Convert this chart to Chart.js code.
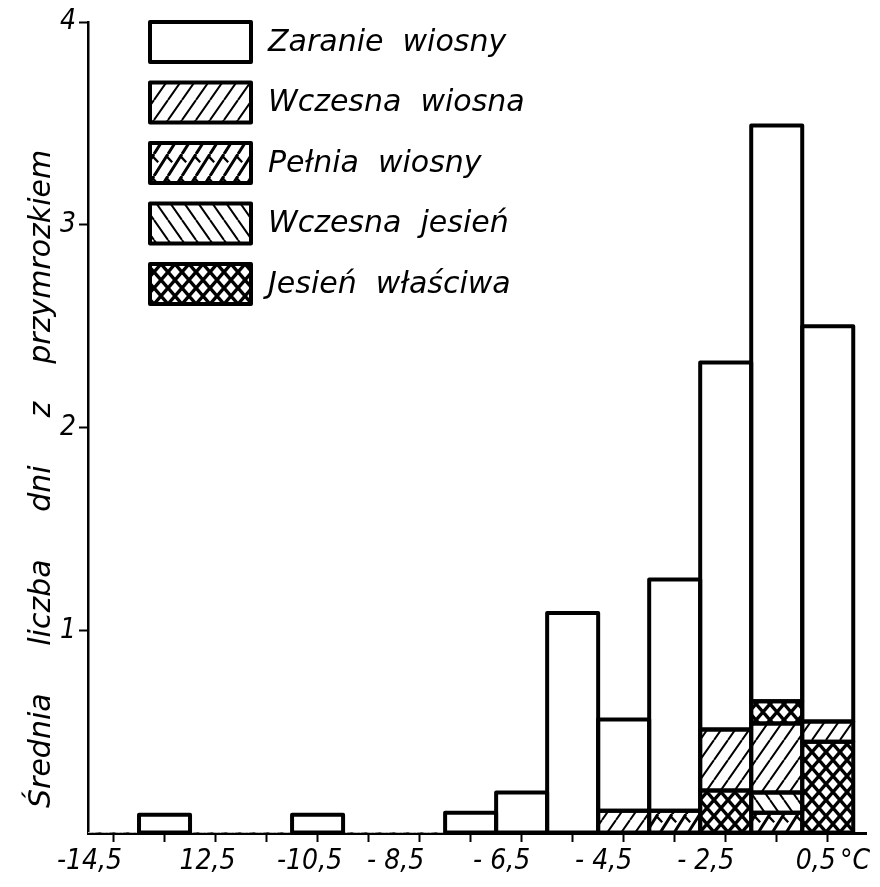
<!DOCTYPE html>
<html>
<head>
<meta charset="utf-8">
<script src="https://cdn.jsdelivr.net/npm/chart.js@4.4.1/dist/chart.umd.min.js"></script>
<style>
  html, body { margin: 0; padding: 0; background: #fff; }
  #wrap { width: 880px; height: 887px; }
</style>
</head>
<body>
<div id="wrap"><canvas id="c" width="880" height="887"></canvas></div>
<script>
// ---- data ----
// bin centres in °C (one bar per 1-degree class)
const binCenters = [-14.5, -13.5, -12.5, -11.5, -10.5, -9.5, -8.5, -7.5, -6.5, -5.5, -4.5, -3.5, -2.5, -1.5, -0.5];
// tick labels as printed (spaces nudge the hand-placed labels)
const tickLabels = ['-14,5 ', '', '   12,5', '', '   -10,5', '', '- 8,5 ', '', '- 6,5', '', '- 4,5', '', '- 2,5', '', '  0,5'];
const yTickValues = [0, 1, 2, 3, 4];

const zaranieWiosny   = [0, 0.09, 0, 0, 0.09, 0, 0, 0.10, 0.20, 1.085, 0.45, 1.14, 1.81, 2.84, 1.95];
const wczesnaWiosna   = [0, 0, 0, 0, 0, 0, 0, 0, 0, 0, 0.11, 0, 0.30, 0.34, 0.10];
const pelniaWiosny    = [0, 0, 0, 0, 0, 0, 0, 0, 0, 0, 0, 0.11, 0, 0.10, 0];
const wczesnaJesien   = [0, 0, 0, 0, 0, 0, 0, 0, 0, 0, 0, 0, 0, 0.10, 0];
// Jesień właściwa: lower part (below Wczesna wiosna) and upper part (above it)
const jesienWlasciwaDol  = [0, 0, 0, 0, 0, 0, 0, 0, 0, 0, 0, 0, 0.21, 0, 0.45];
const jesienWlasciwaGora = [0, 0, 0, 0, 0, 0, 0, 0, 0, 0, 0, 0, 0, 0.11, 0];

const legendLabels = ['Zaranie  wiosny', 'Wczesna  wiosna', 'Pełnia  wiosny', 'Wczesna  jesień', 'Jesień  właściwa'];
const yTitle = 'Średnia     liczba     dni     z    przymrozkiem';
const unitLabel = '°C';

// ---- patterns ----
function makePattern(w, h, draw) {
  const c = document.createElement('canvas');
  c.width = w; c.height = h;
  const g = c.getContext('2d');
  g.fillStyle = '#fff';
  g.fillRect(0, 0, w, h);
  g.strokeStyle = '#000';
  draw(g, w, h);
  return g.createPattern(c, 'repeat');
}
const patWhite = '#ffffff';
const patSlash = makePattern(14, 20, (g, w, h) => {
  g.lineWidth = 2;
  g.beginPath();
  for (const dx of [-w, 0, w]) { g.moveTo(dx, h); g.lineTo(dx + w, 0); }
  g.stroke();
});
const patBack = makePattern(14, 20, (g, w, h) => {
  g.lineWidth = 2;
  g.beginPath();
  for (const dx of [-w, 0, w]) { g.moveTo(dx, 0); g.lineTo(dx + w, h); }
  g.stroke();
});
const patCross = makePattern(14, 16, (g, w, h) => {
  g.lineWidth = 3.4;
  g.beginPath();
  for (const dx of [-w, 0, w]) {
    g.moveTo(dx, h); g.lineTo(dx + w, 0);
    g.moveTo(dx, 0); g.lineTo(dx + w, h);
  }
  g.stroke();
});
const patPelnia = makePattern(14, 22, (g, w, h) => {
  g.lineWidth = 3;
  g.beginPath();
  for (const dx of [-w, 0, w]) {
    g.moveTo(dx, h); g.lineTo(dx + w, 0);
  }
  g.stroke();
  g.lineWidth = 2.2;
  g.beginPath();
  for (const dx of [-w, 0, w]) {
    g.moveTo(dx + w * 0.9, h * 0.1); g.lineTo(dx + w * 1.3, h * 0.38);
  }
  g.stroke();
});
const legendFills = [patWhite, patSlash, patPelnia, patBack, patCross];

function toPoints(arr) { return arr.map((v, i) => ({ x: binCenters[i], y: v })); }

const datasets = [
  { label: legendLabels[2], data: toPoints(pelniaWiosny), backgroundColor: patPelnia },
  { label: legendLabels[4], data: toPoints(jesienWlasciwaDol), backgroundColor: patCross },
  { label: legendLabels[3], data: toPoints(wczesnaJesien), backgroundColor: patBack },
  { label: legendLabels[1], data: toPoints(wczesnaWiosna), backgroundColor: patSlash },
  { label: legendLabels[4], data: toPoints(jesienWlasciwaGora), backgroundColor: patCross },
  { label: legendLabels[0], data: toPoints(zaranieWiosny), backgroundColor: patWhite },
].map(d => Object.assign(d, { borderWidth: 0, barPercentage: 1, categoryPercentage: 1 }));

const FONT_C = '"DejaVu Sans Condensed", "DejaVu Sans", sans-serif';
const FONT = '"DejaVu Sans", sans-serif';

// outlines of every bar segment, drawn from the bar elements' own geometry
const outlinePlugin = {
  id: 'outline',
  afterDatasetsDraw(chart) {
    const ctx = chart.ctx;
    ctx.save();
    ctx.strokeStyle = '#000';
    ctx.lineWidth = 4;
    ctx.lineJoin = 'round';
    chart.data.datasets.forEach((ds, di) => {
      const meta = chart.getDatasetMeta(di);
      meta.data.forEach((el, i) => {
        if (!(ds.data[i].y > 0)) return;
        const p = el.getProps(['x', 'y', 'base', 'width'], true);
        ctx.strokeRect(p.x - p.width / 2, p.y, p.width, p.base - p.y);
      });
    });
    ctx.restore();
  }
};

// legend, axis title and unit
const decorPlugin = {
  id: 'decor',
  afterDraw(chart) {
    const ctx = chart.ctx;
    const ca = chart.chartArea;
    ctx.save();
    // legend
    const bx = 150, bw = 101, bh = 40, step = 60.5, by0 = 22;
    legendLabels.forEach((lab, i) => {
      const y = by0 + i * step;
      ctx.fillStyle = legendFills[i];
      ctx.fillRect(bx, y, bw, bh);
      ctx.lineWidth = 4;
      ctx.lineJoin = 'round';
      ctx.strokeStyle = '#000';
      ctx.strokeRect(bx, y, bw, bh);
      ctx.fillStyle = '#000';
      ctx.font = 'italic 30px ' + FONT;
      ctx.textAlign = 'left';
      ctx.textBaseline = 'middle';
      ctx.fillText(lab, bx + bw + 17, y + bh / 2 + 1);
    });
    // y-axis title
    ctx.save();
    ctx.translate(42, 808);
    ctx.rotate(-Math.PI / 2);
    ctx.font = 'italic 30px ' + FONT;
    ctx.textAlign = 'left';
    ctx.textBaseline = 'middle';
    ctx.fillStyle = '#000';
    ctx.fillText(yTitle, 0, 0);
    ctx.restore();
    // unit
    ctx.font = 'italic 28px ' + FONT_C;
    ctx.textAlign = 'left';
    ctx.textBaseline = 'middle';
    ctx.fillStyle = '#000';
    ctx.fillText(unitLabel, 840, ca.bottom + 29);
    ctx.restore();
  }
};

new Chart(document.getElementById('c'), {
  type: 'bar',
  data: { datasets },
  plugins: [outlinePlugin, decorPlugin],
  options: {
    responsive: false,
    animation: false,
    devicePixelRatio: 1,
    layout: { padding: { top: 22, right: 14, left: 0, bottom: 0 } },
    plugins: { legend: { display: false }, tooltip: { enabled: false } },
    scales: {
      x: {
        type: 'linear',
        min: -15,
        max: 0.25,
        offset: false,
        stacked: true,
        afterBuildTicks(scale) { scale.ticks = binCenters.map(v => ({ value: v })); },
        afterFit(scale) { scale.height = 54; },
        ticks: {
          autoSkip: false,
          maxRotation: 0,
          padding: 3,
          labelOffset: -20,
          color: '#000',
          font: { family: FONT_C, size: 28, style: 'italic' },
          callback: (v, i) => tickLabels[i]
        },
        grid: { offset: false, drawOnChartArea: false, drawTicks: true, tickLength: 9, tickWidth: 2, tickColor: '#000' },
        border: { display: true, color: '#000', width: 3 }
      },
      y: {
        min: 0,
        max: 4,
        stacked: true,
        afterBuildTicks(scale) { scale.ticks = yTickValues.map(v => ({ value: v })); },
        afterFit(scale) { scale.width = 88; },
        ticks: {
          padding: 3,
          color: '#000',
          font: { family: FONT_C, size: 28, style: 'italic' },
          callback: v => (v === 0 ? '' : String(v))
        },
        grid: {
          drawOnChartArea: false, drawTicks: true, tickLength: 9, tickWidth: 2,
          tickColor: ctx => (ctx.tick && ctx.tick.value === 0 ? 'rgba(0,0,0,0)' : '#000')
        },
        border: { display: true, color: '#000', width: 2.5 }
      }
    }
  }
});
</script>
</body>
</html>
